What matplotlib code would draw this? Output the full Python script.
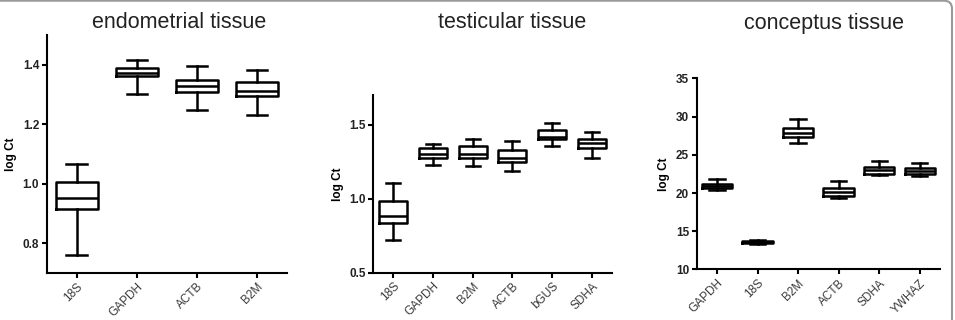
import numpy as np
import matplotlib
matplotlib.use("Agg")
import matplotlib.pyplot as plt
from matplotlib.patches import FancyBboxPatch
from matplotlib.transforms import IdentityTransform

plt.rcParams['font.family'] = ['Liberation Sans', 'DejaVu Sans']

# endometrial tissue
endo_genes = ['18S', 'GAPDH', 'ACTB', 'B2M']
endo_lo = [0.761, 1.301, 1.249, 1.231]
endo_q1 = [0.914, 1.361, 1.309, 1.293]
endo_med = [0.951, 1.372, 1.327, 1.313]
endo_q3 = [1.004, 1.388, 1.348, 1.341]
endo_hi = [1.066, 1.416, 1.397, 1.382]

# testicular tissue
test_genes = ['18S', 'GAPDH', 'B2M', 'ACTB', 'bGUS', 'SDHA']
test_lo = [0.719, 1.225, 1.223, 1.190, 1.359, 1.277]
test_q1 = [0.835, 1.277, 1.277, 1.248, 1.404, 1.342]
test_med = [0.884, 1.299, 1.304, 1.277, 1.415, 1.375]
test_q3 = [0.982, 1.339, 1.355, 1.326, 1.467, 1.406]
test_hi = [1.109, 1.371, 1.406, 1.391, 1.511, 1.449]

# conceptus tissue
conc_genes = ['GAPDH', '18S', 'B2M', 'ACTB', 'SDHA', 'YWHAZ']
conc_lo = [20.45, 13.35, 26.49, 19.30, 22.32, 22.19]
conc_q1 = [20.61, 13.45, 27.32, 19.65, 22.54, 22.54]
conc_med = [20.88, 13.55, 27.90, 20.09, 22.98, 22.89]
conc_q3 = [21.23, 13.75, 28.46, 20.66, 23.42, 23.29]
conc_hi = [21.84, 13.90, 29.65, 21.54, 24.25, 23.95]


def stats(genes, lo, q1, med, q3, hi):
    return [dict(label=g, whislo=a, q1=b, med=c, q3=d, whishi=e)
            for g, a, b, c, d, e in zip(genes, lo, q1, med, q3, hi)]


fig = plt.figure(figsize=(9.55, 3.2), dpi=100)

panels = [
    ([0.049, 0.147, 0.2515, 0.744], stats(endo_genes, endo_lo, endo_q1, endo_med, endo_q3, endo_hi),
     (0.7, 1.5), [0.8, 1.0, 1.2, 1.4], '%.1f', 0.69),
    ([0.391, 0.148, 0.2495, 0.555], stats(test_genes, test_lo, test_q1, test_med, test_q3, test_hi),
     (0.5, 1.7), [0.5, 1.0, 1.5], '%.1f', 0.71),
    ([0.7295, 0.158, 0.2548, 0.597], stats(conc_genes, conc_lo, conc_q1, conc_med, conc_q3, conc_hi),
     (10, 35), [10, 15, 20, 25, 30, 35], '%d', 0.75),
]

lw = 1.8
for rect, st, ylim, yticks, fmt, w in panels:
    ax = fig.add_axes(rect)
    n = len(st)
    ax.bxp(st, positions=np.arange(1, n + 1), widths=w, capwidths=w / 2,
           showfliers=False,
           boxprops=dict(color='black', linewidth=lw),
           whiskerprops=dict(color='black', linewidth=lw),
           capprops=dict(color='black', linewidth=lw),
           medianprops=dict(color='black', linewidth=lw))
    ax.set_xlim(0.5, n + 0.5)
    ax.set_ylim(*ylim)
    ax.set_yticks(yticks)
    ax.set_yticklabels([fmt % t for t in yticks], fontsize=8.5, fontweight='bold', color='#222222')
    ax.set_xticks(np.arange(1, n + 1))
    ax.set_xticklabels([s['label'] for s in st], rotation=45, ha='right',
                       rotation_mode='anchor', fontsize=8.5, color='#3a3a3a')
    ax.set_ylabel('log Ct', fontsize=8.5, fontweight='bold', labelpad=4)
    for side in ['top', 'right']:
        ax.spines[side].set_visible(False)
    for side in ['left', 'bottom']:
        ax.spines[side].set_linewidth(1.5)
    ax.tick_params(axis='both', direction='out', length=3.5, width=1.5, pad=2)

fig.text(0.1874, 0.929, 'endometrial tissue', fontsize=15.5, color='#222222', ha='center', va='center')
fig.text(0.536, 0.931, 'testicular tissue', fontsize=15.5, color='#222222', ha='center', va='center')
fig.text(0.863, 0.928, 'conceptus tissue', fontsize=15.5, color='#222222', ha='center', va='center')

frame = FancyBboxPatch((-20, -20), 972, 339.3, boxstyle='round,pad=0,rounding_size=8',
                       transform=IdentityTransform(), fill=False,
                       edgecolor='#9a9a9a', linewidth=1.5)
fig.patches.append(frame)

fig.savefig('out.png', dpi=100)
